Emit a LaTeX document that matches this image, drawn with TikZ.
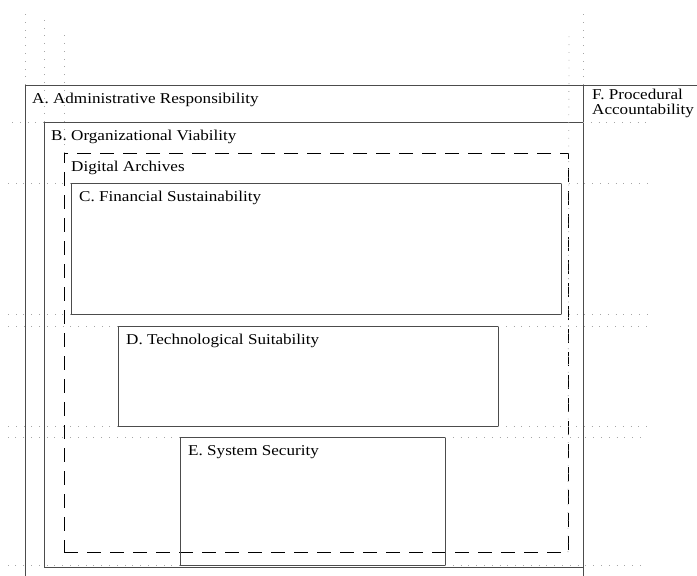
\documentclass[tikz,border=0pt]{standalone}
\usepackage{fontspec}
\setmainfont{Liberation Serif}
\newfontfamily\boxfont[FakeStretch=1.14]{Liberation Serif}
\usetikzlibrary{positioning}

\begin{document}
\begin{tikzpicture}[x=1pt, y=-1pt, node distance=8pt,
  box/.style={draw=black!70, line width=1pt, anchor=north west, inner sep=0pt, outer sep=0pt},
  archive_box/.style={box, draw=black, dash pattern=on 14pt off 9pt},
  guide/.style={draw=black!35, line width=0.8pt, dash pattern=on 0.8pt off 7pt},
  title/.style={inner sep=0pt, text height=10pt, text depth=3pt, font=\boxfont\fontsize{15}{16}\selectfont}]
  \useasboundingbox (0,0) rectangle (697,576);
  \clip (0,0) rectangle (697,576);
  % boxes
  \node[box, minimum width=558pt, minimum height=530pt] (A) at (25,85) {};
  \node[box, minimum width=539pt, minimum height=445pt] (B) at (44,122) {};
  \node[archive_box, minimum width=504pt, minimum height=399pt] (DA) at (64,153) {};
  \node[box, minimum width=490pt, minimum height=131pt] (C) at (71,183) {};
  \node[box, minimum width=380pt, minimum height=100pt] (D) at (118,326) {};
  \node[box, minimum width=265pt, minimum height=128pt] (E) at (180,437) {};
  \coordinate (F) at (697,85);
  \draw[box] (A.north east) -- (F);
  % labels
  \node[title, below right=8pt and 7pt of A.north west] (A_label) {A. Administrative Responsibility};
  \node[title, below right=8pt and 7pt of B.north west] (B_label) {B. Organizational Viability};
  \node[title, below right=8pt and 7pt of DA.north west] (DA_label) {Digital Archives};
  \node[title, below right=8pt and 8pt of C.north west] (C_label) {C. Financial Sustainability};
  \node[title, below right=8pt and 8pt of D.north west] (D_label) {D. Technological Suitability};
  \node[title, below right=8pt and 8pt of E.north west] (E_label) {E. System Security};
  \node[inner sep=0pt, align=left, font=\boxfont\fontsize{15}{15.5}\selectfont,
    below right=3.5pt and 9pt of A.north east] (F_label) {F. Procedural\\Accountability};
  % guides
  \coordinate (top_A) at (25,10);
  \coordinate (top_B) at (44,20);
  \coordinate (top_DA) at (64,33);
  \coordinate (top_DAr) at (569,33);
  \coordinate (top_Ar) at (583,10);
  \draw[guide] (A.north west) -- (top_A);
  \draw[guide] (B.north west) -- (top_B);
  \draw[guide] (DA.north west) -- (top_DA);
  \draw[guide] (DA.south east) -- (top_DAr);
  \draw[guide] (A.north east) -- (top_Ar);
  \draw[guide] (B.north west) -- +(-36,0);
  \draw[guide] (B.north east) -- +(64,0);
  \foreach \n in {C,D,E} {
    \draw[guide] (\n.north west) -- (8,0 |- \n.north west);
    \draw[guide] (\n.south west) -- (8,0 |- \n.south west);
    \draw[guide] (\n.north east) -- (647,0 |- \n.north east);
    \draw[guide] (\n.south east) -- (647,0 |- \n.south east);
  }
\end{tikzpicture}
\end{document}
